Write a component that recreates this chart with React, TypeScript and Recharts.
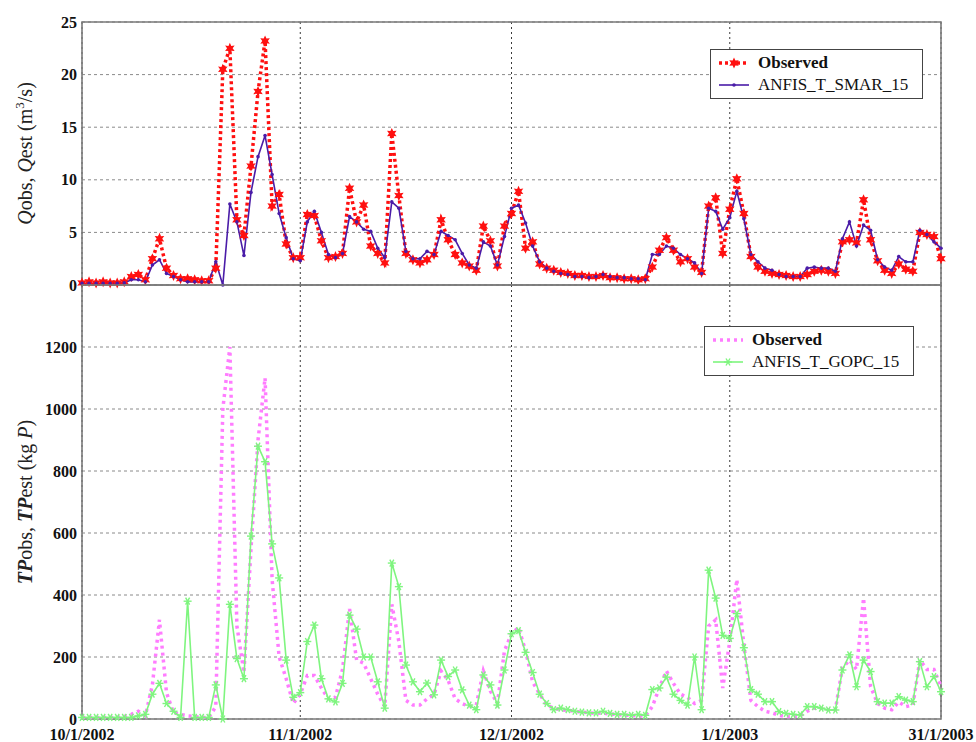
import React from 'react';
import { LineChart, Line, XAxis, YAxis, CartesianGrid, ReferenceArea, Legend } from 'recharts';

// daily series, 1 Oct 2002 .. 31 Jan 2003 (123 days)
const xTickDays = [0, 31, 61, 92, 122];
const xTickLabels = ['10/1/2002', '11/1/2002', '12/1/2002', '1/1/2003', '31/1/2003'];
const qTicks = [0, 5, 10, 15, 20, 25];
const tpTicks = [0, 200, 400, 600, 800, 1000, 1200, 1400];

const qObserved = [
    0.2, 0.3, 0.2, 0.3, 0.2, 0.2, 0.3, 0.8, 1.0, 0.5,
    2.5, 4.4, 1.6, 0.9, 0.6, 0.6, 0.5, 0.4, 0.4, 1.6,
    20.5, 22.5, 6.2, 4.7, 11.3, 18.4, 23.2, 7.5, 8.6, 3.9,
    2.6, 2.6, 6.7, 6.6, 4.2, 2.6, 2.7, 3.0, 9.2, 6.0,
    7.6, 3.7, 3.0, 2.1, 14.4, 8.5, 3.0, 2.4, 2.1, 2.4,
    2.9, 6.2, 4.3, 2.9, 2.1, 1.8, 1.4, 5.6, 4.2, 1.8,
    5.6, 6.8, 8.9, 3.5, 4.1, 2.0, 1.6, 1.4, 1.2, 1.1,
    0.9, 0.9, 0.8, 0.8, 0.9, 0.7, 0.7, 0.6, 0.6, 0.5,
    0.6, 1.7, 3.3, 4.5, 3.3, 2.2, 2.5, 1.7, 1.2, 7.5,
    8.3, 3.0, 7.2, 10.1, 6.8, 2.7, 1.7, 1.3, 1.1, 1.0,
    0.9, 0.8, 0.8, 1.0, 1.3, 1.4, 1.3, 1.1, 4.1, 4.3,
    4.0, 8.1, 4.3, 2.3, 1.4, 1.1, 2.0, 1.5, 1.3, 5.0,
    4.8, 4.6, 2.5,
];

const qAnfis = [
    0.15, 0.15, 0.15, 0.15, 0.15, 0.15, 0.2, 0.5, 0.5, 0.3,
    1.9, 2.4, 1.1, 0.8, 0.5, 0.3, 0.3, 0.3, 0.3, 2.2,
    0.0, 7.7, 6.0, 2.8, 8.8, 12.2, 14.2, 10.5, 6.8, 4.5,
    2.5, 2.3, 6.0, 7.0, 5.0, 2.9, 2.6, 3.0, 6.5, 6.0,
    5.3, 5.1, 3.5, 2.6, 7.9, 7.3, 3.2, 2.5, 2.5, 3.2,
    2.9, 5.1, 4.7, 4.3, 3.0, 1.9, 1.6, 4.1, 3.7, 1.9,
    4.6, 7.3, 7.6, 5.9, 3.7, 2.2, 1.6, 1.3, 1.1, 1.0,
    0.8, 0.8, 0.7, 0.8, 1.0, 0.8, 0.7, 0.7, 0.6, 0.6,
    0.5, 2.9, 2.9, 3.7, 3.5, 2.9, 2.5, 2.1, 1.1, 7.3,
    7.0, 5.3, 6.4, 8.9, 6.3, 2.9, 2.2, 1.6, 1.4, 1.0,
    0.8, 0.8, 0.8, 1.6, 1.7, 1.6, 1.6, 1.3, 4.4, 6.0,
    3.7, 5.7, 5.2, 2.4, 1.7, 1.4, 2.7, 2.2, 2.2, 5.2,
    4.8, 4.1, 3.5,
];

const tpObserved = [
    5, 5, 5, 5, 5, 5, 8, 15, 25, 10,
    110, 320, 85, 20, 15, 10, 8, 5, 5, 40,
    1000, 1200, 300, 150, 550, 900, 1100, 450, 200, 130,
    50, 80, 140, 140, 100, 65, 70, 160, 355, 190,
    180, 130, 80, 40, 370, 250, 60, 45, 45, 65,
    80, 155, 125, 65, 50, 40, 45, 155, 90, 50,
    220, 275, 295, 220, 120, 80, 45, 35, 30, 28,
    25, 22, 20, 18, 20, 15, 15, 12, 12, 10,
    10, 40, 100, 155, 115, 80, 70, 50, 60, 300,
    320, 100, 250, 450, 240, 60, 40, 25, 20, 12,
    8, 8, 10, 25, 35, 35, 30, 30, 165, 190,
    160, 390, 105, 50, 35, 30, 55, 40, 45, 190,
    160, 160, 105,
];

const tpAnfis = [
    5, 5, 5, 5, 5, 5, 5, 5, 10, 15,
    80, 115, 50, 25, 5, 380, 5, 5, 5, 110,
    0, 370, 195, 130, 590, 880, 830, 565, 455, 190,
    70, 85, 250, 303, 130, 65, 55, 115, 335, 290,
    200, 200, 120, 35, 503, 427, 174, 120, 88, 116,
    78, 190, 137, 158, 94, 45, 30, 142, 110, 45,
    158, 275, 285, 215, 150, 80, 50, 30, 35, 30,
    25, 22, 20, 20, 25, 18, 15, 15, 12, 15,
    12, 95, 100, 135, 80, 60, 45, 200, 30, 480,
    390, 270, 260, 340, 230, 95, 80, 56, 56, 24,
    18, 15, 13, 40, 40, 35, 29, 29, 158, 207,
    104, 190, 153, 56, 51, 51, 72, 61, 56, 185,
    104, 137, 88,
];

const qData = qObserved.map((v, i) => ({ day: i, obs: v, est: qAnfis[i] }));
const tpData = tpObserved.map((v, i) => ({ day: i, obs: v, est: tpAnfis[i] }));

const serif = '"Liberation Serif", "Times New Roman", Times, serif';
const RED = '#ff1010';
const PURPLE = '#4a1ca8';
const PINK = '#ff7cff';
const GREEN = '#7ff57f';
const tickStyle = { fontFamily: serif, fontSize: 16, fontWeight: 'bold', fill: '#111' };

function starPath(cx: number, cy: number, ro: number, ri: number, n: number) {
    const pts: string[] = [];
    for (let k = 0; k < n * 2; k++) {
        const a = (-90 + (k * 180) / n) * Math.PI / 180;
        const r = k % 2 ? ri : ro;
        pts.push(`${cx + r * Math.cos(a)},${cy + r * Math.sin(a)}`);
    }
    return pts.join(' ');
}

const RedStar = ({ cx, cy }: any) => <polygon points={starPath(cx, cy, 5.5, 2.8, 6)} fill={RED} />;
const PurpleDot = ({ cx, cy }: any) => <circle cx={cx} cy={cy} r={1.8} fill={PURPLE} />;
const GreenStar = ({ cx, cy }: any) => (
    <g stroke={GREEN} strokeWidth={1.4}>
        <line x1={cx - 4} y1={cy} x2={cx + 4} y2={cy} />
        <line x1={cx - 2} y1={cy - 3.5} x2={cx + 2} y2={cy + 3.5} />
        <line x1={cx - 2} y1={cy + 3.5} x2={cx + 2} y2={cy - 3.5} />
    </g>
);

function AxisTitle({ viewBox, which }: any) {
    const cy = viewBox ? viewBox.y + viewBox.height / 2 : 150;
    const cx = 32;
    return (
        <text x={cx} y={cy} transform={`rotate(-90, ${cx}, ${cy})`} textAnchor="middle"
            fontFamily={serif} fontSize={20} fill="#222">
            {which === 'q' ? (
                <>
                    <tspan fontStyle="italic">Q</tspan>obs, <tspan fontStyle="italic">Q</tspan>est (m
                    <tspan fontSize={13} dy={-8}>3</tspan>
                    <tspan dy={8}>/s)</tspan>
                </>
            ) : (
                <>
                    <tspan fontStyle="italic" fontWeight="bold">TP</tspan>obs, <tspan fontStyle="italic" fontWeight="bold">TP</tspan>est (kg <tspan fontStyle="italic">P</tspan>)
                </>
            )}
        </text>
    );
}

function LegendBox({ items, width }: any) {
    return (
        <div style={{
            width, boxSizing: 'border-box', border: '1px solid #444', background: '#fff',
            padding: '2px 0 2px 7px', fontFamily: serif, fontSize: 17, color: '#111',
        }}>
            {items.map((it: any) => (
                <div key={it.label} style={{ display: 'flex', alignItems: 'center', height: 22 }}>
                    <svg width={32} height={14} style={{ flex: 'none' }}>{it.sample}</svg>
                    <span style={{ marginLeft: 8, fontWeight: it.bold ? 'bold' : 'normal', whiteSpace: 'nowrap' }}>{it.label}</span>
                </div>
            ))}
        </div>
    );
}

const qLegend = [
    {
        label: 'Observed', bold: true,
        sample: (<g><line x1={1} y1={7} x2={31} y2={7} stroke={RED} strokeWidth={3.5} strokeDasharray="3 3" /><RedStar cx={16} cy={7} /></g>),
    },
    {
        label: 'ANFIS_T_SMAR_15', bold: false,
        sample: (<g><line x1={1} y1={7} x2={31} y2={7} stroke={PURPLE} strokeWidth={1.6} /><PurpleDot cx={16} cy={7} /></g>),
    },
];

const tpLegend = [
    {
        label: 'Observed', bold: true,
        sample: (<line x1={1} y1={7} x2={31} y2={7} stroke={PINK} strokeWidth={3.5} strokeDasharray="3 4" />),
    },
    {
        label: 'ANFIS_T_GOPC_15', bold: false,
        sample: (<g><line x1={1} y1={7} x2={31} y2={7} stroke={GREEN} strokeWidth={1.6} /><GreenStar cx={16} cy={7} /></g>),
    },
];

export default function App() {
    return (
        <div style={{ position: 'absolute', left: 0, top: 0, width: 976, height: 742, background: '#fff', overflow: 'hidden' }}>
            <div style={{ position: 'absolute', left: 0, top: 0 }}>
                <LineChart width={976} height={300} data={qData} margin={{ top: 22, right: 35, bottom: 0, left: 0 }}>
                    <CartesianGrid vertical={false} stroke="#8a8a8a" strokeDasharray="3 3" />
                    <CartesianGrid horizontal={false} stroke="#3a3a3a" strokeDasharray="2 3" />
                    <XAxis dataKey="day" type="number" domain={[0, 122]} ticks={xTickDays} interval={0}
                        tickFormatter={() => ''} tickLine={false} axisLine={false} height={15} />
                    <YAxis type="number" domain={[0, 25]} ticks={qTicks} width={82} tick={tickStyle}
                        tickLine={false} axisLine={false} tickSize={2} tickMargin={3}
                        label={<AxisTitle which="q" />} />
                    <ReferenceArea x1={0} x2={122} y1={0} y2={25} fill="none" fillOpacity={0}
                        stroke="#7a7a7a" strokeWidth={1.6} ifOverflow="visible" />
                    <Line type="linear" dataKey="obs" name="Observed" stroke={RED} strokeWidth={3.5}
                        strokeDasharray="3 3" isAnimationActive={false} activeDot={false}
                        dot={(p: any) => <RedStar key={`qo-${p.index}`} cx={p.cx} cy={p.cy} />} />
                    <Line type="linear" dataKey="est" name="ANFIS_T_SMAR_15" stroke={PURPLE} strokeWidth={1.6}
                        isAnimationActive={false} activeDot={false}
                        dot={(p: any) => <PurpleDot key={`qe-${p.index}`} cx={p.cx} cy={p.cy} />} />
                    <Legend layout="vertical" align="center" verticalAlign="middle"
                        wrapperStyle={{ top: 49, left: 710, width: 213 }}
                        content={() => <LegendBox items={qLegend} width={213} />} />
                </LineChart>
            </div>
            <div style={{ position: 'absolute', left: 0, top: 279 }}>
                <LineChart width={976} height={463} data={tpData} margin={{ top: 6, right: 35, bottom: 0, left: 0 }}>
                    <CartesianGrid vertical={false} stroke="#8a8a8a" strokeDasharray="3 3" />
                    <CartesianGrid horizontal={false} stroke="#3a3a3a" strokeDasharray="2 3" />
                    <XAxis dataKey="day" type="number" domain={[0, 122]} ticks={xTickDays}
                        tickFormatter={(d: number) => xTickLabels[xTickDays.indexOf(d)]}
                        tick={tickStyle} tickLine={false} axisLine={false} height={23} interval={0}
                        tickMargin={4} />
                    <YAxis type="number" domain={[0, 1400]} ticks={tpTicks} width={82} tick={tickStyle}
                        tickFormatter={(v: number) => (v === 1400 ? '' : String(v))}
                        tickLine={false} axisLine={false} tickSize={2} tickMargin={3}
                        label={<AxisTitle which="tp" />} />
                    <ReferenceArea x1={0} x2={122} y1={0} y2={1400} fill="none" fillOpacity={0}
                        stroke="#7a7a7a" strokeWidth={1.6} ifOverflow="visible" />
                    <Line type="linear" dataKey="obs" name="Observed" stroke={PINK} strokeWidth={3.5}
                        strokeDasharray="3 4" isAnimationActive={false} activeDot={false} dot={false} />
                    <Line type="linear" dataKey="est" name="ANFIS_T_GOPC_15" stroke={GREEN} strokeWidth={1.6}
                        isAnimationActive={false} activeDot={false}
                        dot={(p: any) => <GreenStar key={`te-${p.index}`} cx={p.cx} cy={p.cy} />} />
                    <Legend layout="vertical" align="center" verticalAlign="middle"
                        wrapperStyle={{ top: 47, left: 704, width: 210 }}
                        content={() => <LegendBox items={tpLegend} width={210} />} />
                </LineChart>
            </div>
        </div>
    );
}
